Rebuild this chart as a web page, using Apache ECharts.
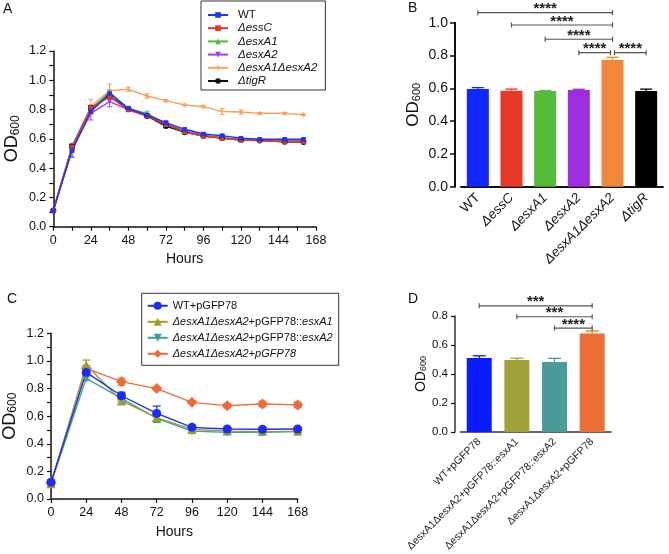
<!DOCTYPE html>
<html><head><meta charset="utf-8">
<script src="https://cdn.jsdelivr.net/npm/echarts@6/dist/echarts.min.js"></script>
<style>html,body{margin:0;padding:0;background:#fff}#c{width:669px;height:554px}</style>
</head><body><div id="c"></div>
<script>
// ---------- Panel A data ----------
const hoursA = [0, 12, 24, 36, 48, 60, 72, 84, 96, 108, 120, 132, 148, 160];
const namesA = ['WT', 'ΔessC', 'ΔesxA1', 'ΔesxA2', 'ΔesxA1ΔesxA2', 'ΔtigR'];
const wtA    = [0.11, 0.52, 0.786, 0.91, 0.809, 0.763, 0.711, 0.665, 0.633, 0.622, 0.604, 0.597, 0.597, 0.597];
const esscA  = [0.11, 0.54, 0.81, 0.888, 0.797, 0.756, 0.70, 0.65, 0.62, 0.604, 0.592, 0.59, 0.581, 0.579];
const esxa1A = [0.11, 0.55, 0.80, 0.92, 0.805, 0.774, 0.70, 0.648, 0.62, 0.606, 0.59, 0.59, 0.585, 0.583];
const esxa2A = [0.11, 0.54, 0.774, 0.854, 0.80, 0.757, 0.70, 0.652, 0.624, 0.608, 0.594, 0.592, 0.59, 0.59];
const dblA   = [0.11, 0.53, 0.82, 0.929, 0.938, 0.893, 0.861, 0.831, 0.82, 0.786, 0.783, 0.774, 0.774, 0.765];
const tigrA  = [0.11, 0.546, 0.813, 0.89, 0.805, 0.756, 0.688, 0.645, 0.62, 0.606, 0.592, 0.588, 0.58, 0.579];
const wtAErr    = [0.005, 0.045, 0.01, 0.01, 0.008, 0.006, 0.01, 0.008, 0.008, 0.008, 0.006, 0.005, 0.005, 0.006];
const esscAErr  = [0.005, 0.02, 0.02, 0.015, 0.01, 0.01, 0.01, 0.008, 0.006, 0.006, 0.006, 0.005, 0.005, 0.005];
const esxa1AErr = [0.005, 0.02, 0.02, 0.015, 0.01, 0.015, 0.008, 0.008, 0.008, 0.006, 0.006, 0.005, 0.005, 0.005];
const esxa2AErr = [0.005, 0.02, 0.045, 0.035, 0.01, 0.01, 0.01, 0.008, 0.006, 0.006, 0.006, 0.005, 0.005, 0.005];
const dblAErr   = [0.005, 0.02, 0.05, 0.045, 0.015, 0.015, 0.008, 0.006, 0.008, 0.02, 0.015, 0.006, 0.006, 0.006];
const tigrAErr  = [0.005, 0.015, 0.015, 0.015, 0.008, 0.008, 0.008, 0.008, 0.006, 0.006, 0.006, 0.005, 0.005, 0.005];

// ---------- Panel B data ----------
const catsB = ['WT', 'ΔessC', 'ΔesxA1', 'ΔesxA2', 'ΔesxA1ΔesxA2', 'ΔtigR'];
const valsB = [0.596, 0.585, 0.583, 0.59, 0.773, 0.583];
const errB  = [0.008, 0.01, 0.003, 0.004, 0.016, 0.012];
const bracketsB = [[0, 4, 1.061, '****'], [1, 4, 0.986, '****'], [2, 4, 0.899, '****'], [3, 4, 0.817, '****'], [4, 5, 0.817, '****']];

// ---------- Panel C data ----------
const hoursC = [0, 24, 48, 72, 96, 120, 144, 168];
const namesC = ['WT+pGFP78', 'ΔesxA1ΔesxA2+pGFP78::esxA1', 'ΔesxA1ΔesxA2+pGFP78::esxA2', 'ΔesxA1ΔesxA2+pGFP78'];
const wtC  = [0.121, 0.917, 0.748, 0.62, 0.519, 0.507, 0.505, 0.507];
const a1C  = [0.11, 0.97, 0.71, 0.59, 0.505, 0.492, 0.488, 0.49];
const a2C  = [0.11, 0.874, 0.729, 0.584, 0.492, 0.483, 0.483, 0.488];
const pC   = [0.12, 0.946, 0.85, 0.80, 0.70, 0.676, 0.688, 0.681];
const wtCErr = [0.01, 0.02, 0.025, 0.053, 0.01, 0.01, 0.01, 0.01];
const a1CErr = [0.01, 0.036, 0.02, 0.025, 0.03, 0.01, 0.01, 0.01];
const a2CErr = [0.01, 0.015, 0.02, 0.03, 0.01, 0.01, 0.01, 0.01];
const pCErr  = [0.01, 0.02, 0.025, 0.012, 0.01, 0.015, 0.02, 0.02];

// ---------- Panel D data ----------
const catsD = ['WT+pGFP78', 'ΔesxA1ΔesxA2+pGFP78::esxA1', 'ΔesxA1ΔesxA2+pGFP78::esxA2', 'ΔesxA1ΔesxA2+pGFP78'];
const valsD = [0.511, 0.496, 0.483, 0.68];
const errD  = [0.015, 0.013, 0.025, 0.017];
const bracketsD = [[0, 3, 0.87, '***'], [1, 3, 0.795, '***'], [2, 3, 0.717, '****']];

// ---------- styles ----------
const FONT = '"Liberation Sans", Arial, Helvetica, sans-serif';
const colA = {WT: '#1f35f5', essC: '#e8312a', a1: '#4cbf3a', a2: '#a040ee', dbl: '#f4a25e', tigR: '#111111'};
const colorsB = ['#1226ff', '#e8382a', '#55bb3a', '#9d2ee0', '#f08838', '#000000'];
const colC = ['#1a2cf5', '#9c9c2c', '#449c9a', '#ee6a38'];
const colorsD = ['#0a1cff', '#a2a23a', '#4a9c9a', '#ec7035'];
const DOWN_TRI = 'path://M0,0 L10,0 L5,9 Z';
const PLUS = 'path://M4,0 L6,0 L6,4 L10,4 L10,6 L6,6 L6,10 L4,10 L4,6 L0,6 L0,4 L4,4 Z';

function zip(xs, ys, es) { return xs.map((x, i) => es ? [x, ys[i], es[i]] : [x, ys[i]]); }

function errRenderer(capHalf, lw) {
  return function (params, api) {
    const x = api.value(0), y = api.value(1), e = api.value(2);
    const lo = api.coord([x, y - e]), hi = api.coord([x, y + e]);
    const st = {stroke: api.visual('color'), lineWidth: lw};
    return {type: 'group', children: [
      {type: 'line', shape: {x1: lo[0], y1: lo[1], x2: hi[0], y2: hi[1]}, style: st},
      {type: 'line', shape: {x1: lo[0] - capHalf, y1: lo[1], x2: lo[0] + capHalf, y2: lo[1]}, style: st},
      {type: 'line', shape: {x1: hi[0] - capHalf, y1: hi[1], x2: hi[0] + capHalf, y2: hi[1]}, style: st}
    ]};
  };
}
function barErrRenderer(colors, capHalf, lw) {
  return function (params, api) {
    const x = api.value(0), y = api.value(1), e = api.value(2);
    const lo = api.coord([x, y]), hi = api.coord([x, y + e]);
    const st = {stroke: colors[params.dataIndex], lineWidth: lw};
    return {type: 'group', children: [
      {type: 'line', shape: {x1: lo[0], y1: lo[1], x2: hi[0], y2: hi[1]}, style: st},
      {type: 'line', shape: {x1: hi[0] - capHalf, y1: hi[1], x2: hi[0] + capHalf, y2: hi[1]}, style: st}
    ]};
  };
}
function bracketRenderer(list, fontSize) {
  return function (params, api) {
    const b = list[params.dataIndex];
    const p1 = api.coord([b[0], b[2]]), p2 = api.coord([b[1], b[2]]);
    let x1 = p1[0], x2 = p2[0]; const y = p1[1];
    if (list.some(o => o !== b && o[2] === b[2] && o[1] === b[0])) x1 += 2;
    if (list.some(o => o !== b && o[2] === b[2] && o[0] === b[1])) x2 -= 2;
    const st = {stroke: '#555', lineWidth: 1.2};
    return {type: 'group', children: [
      {type: 'line', shape: {x1: x1, y1: y, x2: x2, y2: y}, style: st},
      {type: 'line', shape: {x1: x1, y1: y - 2.5, x2: x1, y2: y + 2.5}, style: st},
      {type: 'line', shape: {x1: x2, y1: y - 2.5, x2: x2, y2: y + 2.5}, style: st},
      {type: 'text', style: {text: b[3], x: (x1 + x2) / 2, y: y - 3.5, align: 'center', verticalAlign: 'middle',
        textAlign: 'center', textVerticalAlign: 'middle', fontSize: fontSize, fontWeight: 'bold', fontFamily: FONT, fill: '#222'}}
    ]};
  };
}

const odRich = (big, small, pad) => ({
  m: {fontSize: big, fontFamily: FONT, color: '#111', lineHeight: big, verticalAlign: 'top'},
  s: {fontSize: small, fontFamily: FONT, color: '#111', lineHeight: small, verticalAlign: 'top', padding: [pad, 0, 0, 0]}
});

function valueAxisY(gridIndex, max, fontSize, minor, extra) {
  return Object.assign({
    type: 'value', gridIndex: gridIndex, min: 0, max: max, interval: 0.2,
    axisLine: {show: true, lineStyle: {color: '#111', width: 1.5}},
    axisTick: {show: true, length: 4, lineStyle: {color: '#111', width: 1.2}},
    minorTick: {show: minor, splitNumber: 2, length: 4, lineStyle: {color: '#111', width: 1.2}},
    splitLine: {show: false}, minorSplitLine: {show: false},
    axisLabel: {fontSize: fontSize, fontFamily: FONT, color: '#111', margin: 7, formatter: v => v.toFixed(1)},
    nameLocation: 'middle', nameTextStyle: {}
  }, extra || {});
}

const lineSeriesA = [
  {name: 'ΔtigR', data: tigrA, err: tigrAErr, color: colA.tigR, symbol: 'circle', size: 6},
  {name: 'ΔesxA1ΔesxA2', data: dblA, err: dblAErr, color: colA.dbl, symbol: PLUS, size: 5},
  {name: 'ΔesxA2', data: esxa2A, err: esxa2AErr, color: colA.a2, symbol: DOWN_TRI, size: 5},
  {name: 'ΔesxA1', data: esxa1A, err: esxa1AErr, color: colA.a1, symbol: 'triangle', size: 5},
  {name: 'ΔessC', data: esscA, err: esscAErr, color: colA.essC, symbol: 'rect', size: 4.5},
  {name: 'WT', data: wtA, err: wtAErr, color: colA.WT, symbol: 'rect', size: 4.5}
];
const lineSeriesC = [
  {name: namesC[3], data: pC, err: pCErr, color: colC[3], symbol: 'diamond', size: 11},
  {name: namesC[2], data: a2C, err: a2CErr, color: colC[2], symbol: DOWN_TRI, size: 9},
  {name: namesC[1], data: a1C, err: a1CErr, color: colC[1], symbol: 'triangle', size: 9},
  {name: namesC[0], data: wtC, err: wtCErr, color: colC[0], symbol: 'circle', size: 9}
];

const series = [];
lineSeriesA.forEach(s => {
  series.push({type: 'custom', name: s.name + ' err', xAxisIndex: 0, yAxisIndex: 0, z: 2,
    itemStyle: {color: s.color}, renderItem: errRenderer(2.5, 1), data: zip(hoursA, s.data, s.err), encode: {x: 0, y: 1}});
  series.push({type: 'line', name: s.name, xAxisIndex: 0, yAxisIndex: 0, z: 3, data: zip(hoursA, s.data),
    symbol: s.symbol, symbolSize: s.size, showAllSymbol: true,
    lineStyle: {color: s.color, width: 1.5}, itemStyle: {color: s.color}, emphasis: {disabled: true}});
});
lineSeriesC.forEach(s => {
  series.push({type: 'custom', name: s.name + ' err', xAxisIndex: 2, yAxisIndex: 2, z: 2,
    itemStyle: {color: s.color}, renderItem: errRenderer(4, 1.2), data: zip(hoursC, s.data, s.err), encode: {x: 0, y: 1}});
  series.push({type: 'line', name: s.name, xAxisIndex: 2, yAxisIndex: 2, z: 3, data: zip(hoursC, s.data),
    symbol: s.symbol, symbolSize: s.size, showAllSymbol: true,
    lineStyle: {color: s.color, width: 1.3}, itemStyle: {color: s.color}, emphasis: {disabled: true}});
});
series.push({type: 'bar', name: 'B bars', xAxisIndex: 1, yAxisIndex: 1, barWidth: 22,
  data: valsB.map((v, i) => ({value: v, itemStyle: {color: colorsB[i]}}))});
series.push({type: 'custom', name: 'B err', xAxisIndex: 1, yAxisIndex: 1, z: 1,
  renderItem: barErrRenderer(colorsB, 6, 1.3), data: valsB.map((v, i) => [i, v, errB[i]]), encode: {x: 0, y: 1}});
series.push({type: 'custom', name: 'B sig', xAxisIndex: 1, yAxisIndex: 1, z: 5,
  renderItem: bracketRenderer(bracketsB, 15), data: bracketsB.map(b => [b[0], b[2]]), encode: {x: 0, y: 1}});
series.push({type: 'bar', name: 'D bars', xAxisIndex: 3, yAxisIndex: 3, barWidth: 25,
  data: valsD.map((v, i) => ({value: v, itemStyle: {color: colorsD[i]}}))});
series.push({type: 'custom', name: 'D err', xAxisIndex: 3, yAxisIndex: 3, z: 1,
  renderItem: barErrRenderer(colorsD, 6.5, 1.3), data: valsD.map((v, i) => [i, v, errD[i]]), encode: {x: 0, y: 1}});
series.push({type: 'custom', name: 'D sig', xAxisIndex: 3, yAxisIndex: 3, z: 5,
  renderItem: bracketRenderer(bracketsD, 15), data: bracketsD.map(b => [b[0], b[2]]), encode: {x: 0, y: 1}});

const legendFmtA = n => n === 'WT' ? '{g| }{n|WT}' : '{g| }{i|' + n + '}';
const legendFmtC = n => {
  if (n === 'WT+pGFP78') return '{n|WT+pGFP78}';
  const m = n.match(/^(ΔesxA1ΔesxA2)(\+pGFP78::)(esxA\d)$/);
  if (m) return '{i|' + m[1] + '}{n|' + m[2] + '}{i|' + m[3] + '}';
  return '{i|' + n + '}';
};
const richLeg = fs => ({
  g: {width: 5, fontSize: fs},
  n: {fontSize: fs, fontFamily: FONT, color: '#111'},
  i: {fontSize: fs, fontFamily: FONT, color: '#111', fontStyle: 'italic'}
});

const option = {
  animation: false,
  backgroundColor: '#fff',
  textStyle: {fontFamily: FONT},
  grid: [
    {left: 53.3, top: 51, width: 262.7, height: 175.7},
    {left: 461, top: 22.7, width: 202, height: 164},
    {left: 50, top: 333.3, width: 247.7, height: 165.7},
    {left: 460.4, top: 316, width: 150.6, height: 126.3}
  ],
  xAxis: [
    {type: 'value', gridIndex: 0, min: 0, max: 168, interval: 24,
      axisLine: {lineStyle: {color: '#111', width: 1.5}},
      axisTick: {length: 4, lineStyle: {color: '#111', width: 1.2}},
      minorTick: {show: true, splitNumber: 2, length: 4, lineStyle: {color: '#111', width: 1.2}},
      splitLine: {show: false}, minorSplitLine: {show: false},
      axisLabel: {fontSize: 12.5, fontFamily: FONT, color: '#111', margin: 7},
      name: 'Hours', nameLocation: 'middle', nameGap: 25, nameTextStyle: {fontSize: 14, fontFamily: FONT, color: '#111'}},
    {type: 'category', gridIndex: 1, data: catsB,
      axisLine: {lineStyle: {color: '#111', width: 2}},
      axisTick: {alignWithLabel: true, length: 5, lineStyle: {color: '#111', width: 1.5}},
      axisLabel: {rotate: 45, margin: 9, interval: 0, fontSize: 13.5, fontFamily: FONT, color: '#111',
        formatter: v => v === 'WT' ? '{n|WT}' : '{i|' + v + '}',
        rich: {n: {fontSize: 13.5, fontFamily: FONT, color: '#111'}, i: {fontSize: 13.5, fontFamily: FONT, color: '#111', fontStyle: 'italic'}}}},
    {type: 'value', gridIndex: 2, min: 0, max: 168, interval: 24,
      axisLine: {lineStyle: {color: '#111', width: 1.5}},
      axisTick: {length: 4, lineStyle: {color: '#111', width: 1.2}},
      splitLine: {show: false},
      axisLabel: {fontSize: 12.5, fontFamily: FONT, color: '#111', margin: 7},
      name: 'Hours', nameLocation: 'middle', nameGap: 26, nameTextStyle: {fontSize: 14, fontFamily: FONT, color: '#111'}},
    {type: 'category', gridIndex: 3, data: catsD,
      axisLine: {lineStyle: {color: '#333', width: 1.5}},
      axisTick: {alignWithLabel: true, length: 4, lineStyle: {color: '#333', width: 1.2}},
      axisLabel: {rotate: 45, margin: 8, interval: 0, fontSize: 10.5, fontFamily: FONT, color: '#222'}}
  ],
  yAxis: [
    valueAxisY(0, 1.2, 12.5, true, {name: '{m|OD}{s|600}', nameGap: 32,
      nameTextStyle: {rich: odRich(18, 12, 6)}}),
    valueAxisY(1, 1.0, 14, false, {offset: 6, name: '{m|OD}{s|600}', nameGap: 33,
      axisLine: {show: true, lineStyle: {color: '#111', width: 2}},
      axisTick: {show: true, length: 5, lineStyle: {color: '#111', width: 1.5}},
      nameTextStyle: {rich: odRich(17, 11, 6)}}),
    valueAxisY(2, 1.2, 12.5, true, {name: '{m|OD}{s|600}', nameGap: 32,
      nameTextStyle: {rich: odRich(18, 12, 6)}}),
    valueAxisY(3, 0.8, 11.5, false, {offset: 5.4, name: '{m|OD}{s|600}', nameGap: 25,
      axisLine: {show: true, lineStyle: {color: '#333', width: 1.5}},
      nameTextStyle: {rich: odRich(14, 9, 5)}})
  ],
  legend: [
    {data: namesA, orient: 'vertical', left: 201, top: 1, itemWidth: 20, itemHeight: 7, itemGap: 1.2,
      padding: [8, 8, 3, 6], borderColor: '#333', borderWidth: 1, backgroundColor: '#fff',
      selectedMode: false, formatter: legendFmtA, textStyle: {fontSize: 11.5, rich: richLeg(11.5)}},
    {data: namesC, orient: 'vertical', left: 141.7, top: 293.3, itemWidth: 20, itemHeight: 10, itemGap: 5,
      padding: [7, 6, 6, 5], borderColor: '#333', borderWidth: 1, backgroundColor: '#fff',
      selectedMode: false, formatter: legendFmtC, textStyle: {fontSize: 11, rich: richLeg(11)}}
  ],
  graphic: [
    {type: 'text', left: 3, top: 2, style: {text: 'A', fontSize: 14, fontFamily: FONT, fill: '#111'}},
    {type: 'text', left: 408, top: 1, style: {text: 'B', fontSize: 14, fontFamily: FONT, fill: '#111'}},
    {type: 'text', left: 7, top: 292, style: {text: 'C', fontSize: 14, fontFamily: FONT, fill: '#111'}},
    {type: 'text', left: 408, top: 292, style: {text: 'D', fontSize: 14, fontFamily: FONT, fill: '#111'}}
  ],
  series: series
};
const chart = echarts.init(document.getElementById('c'));
chart.setOption(option);
</script></body></html>
